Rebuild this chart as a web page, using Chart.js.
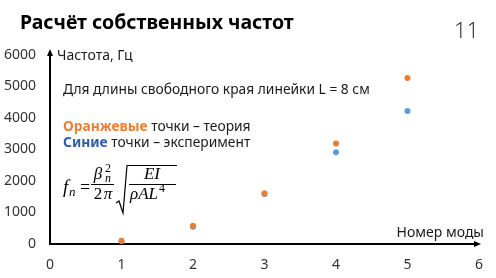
<!DOCTYPE html>
<html>
<head>
<meta charset="utf-8">
<script src="https://cdn.jsdelivr.net/npm/chart.js@4"></script>
<style>
  html, body { margin: 0; padding: 0; background: #fff; }
  #wrap { width: 496px; height: 278px; position: relative; }
</style>
</head>
<body>
<div id="wrap"><canvas id="modeChart" width="496" height="278"></canvas></div>
<script>
// Номера мод и частоты (Гц)
const modes = [1, 2, 3, 4, 5];
const theoryHz = [100, 580, 1610, 3190, 5270];     // оранжевые - теория
const experimentHz = [90, 550, 1590, 2910, 4220];  // синие - эксперимент
const xTicks = [0, 1, 2, 3, 4, 5, 6];
const yTicks = [0, 1000, 2000, 3000, 4000, 5000, 6000];

const txtFont = '"Noto Sans", "Open Sans", sans-serif';
const mathFont = '"Liberation Serif", "DejaVu Serif", serif';

// текст, стрелки осей и формула
const slidePlugin = {
    id: 'slide',
    afterDraw(chart) {
        const ctx = chart.ctx;
        const a = chart.chartArea;
        ctx.save();

        // стрелки
        ctx.fillStyle = '#000';
        ctx.beginPath();
        ctx.moveTo(a.left, a.top - 6);
        ctx.lineTo(a.left - 3, a.top + 1);
        ctx.lineTo(a.left + 3, a.top + 1);
        ctx.fill();
        ctx.fillRect(a.left - 1, a.top, 2, 2);
        ctx.beginPath();
        ctx.moveTo(a.right + 2, a.bottom);
        ctx.lineTo(a.right - 5, a.bottom - 3);
        ctx.lineTo(a.right - 5, a.bottom + 3);
        ctx.fill();

        // заголовок и номер слайда
        ctx.textBaseline = 'alphabetic';
        ctx.textAlign = 'left';
        ctx.fillStyle = '#000';
        ctx.font = 'bold 19.5px ' + txtFont;
        ctx.fillText('Расчёт собственных частот', 20, 29);
        ctx.font = '300 22px "Open Sans", sans-serif';
        ctx.fillStyle = '#222';
        ctx.fillText('11', 454, 38);

        // подписи осей
        ctx.textBaseline = 'middle';
        ctx.font = '14px ' + txtFont;
        ctx.fillStyle = '#1a1a1a';
        ctx.fillText('Частота, Гц', 57, 56);
        ctx.textAlign = 'right';
        ctx.fillText('Номер моды', 484, 233);

        // пояснения
        ctx.textAlign = 'left';
        ctx.font = '13.8px ' + txtFont;
        ctx.fillText('Для длины свободного края линейки L = 8 см', 63, 90);

        ctx.font = 'bold 13.8px ' + txtFont;
        ctx.fillStyle = '#ED7D31';
        ctx.fillText('Оранжевые', 63, 127);
        let w = ctx.measureText('Оранжевые ').width;
        ctx.font = '13.8px ' + txtFont;
        ctx.fillStyle = '#1a1a1a';
        ctx.fillText('точки – теория', 63 + w, 127);

        ctx.font = 'bold 13.8px ' + txtFont;
        ctx.fillStyle = '#2F5CA6';
        ctx.fillText('Синие', 63, 143);
        w = ctx.measureText('Синие ').width;
        ctx.font = '13.8px ' + txtFont;
        ctx.fillStyle = '#1a1a1a';
        ctx.fillText('точки – эксперимент', 63 + w, 143);

        // формула f_n = beta_n^2 / 2pi * sqrt(EI / rho A L^4)
        ctx.fillStyle = '#000';
        ctx.strokeStyle = '#000';
        ctx.textBaseline = 'alphabetic';
        ctx.textAlign = 'left';
        ctx.font = 'italic 19px ' + mathFont;
        ctx.fillText('f', 63, 193);
        ctx.font = 'italic 13px ' + mathFont;
        ctx.fillText('n', 69, 196);
        ctx.font = '18px ' + mathFont;
        ctx.fillText('=', 80, 193);

        ctx.textAlign = 'center';
        ctx.font = 'italic 17px ' + mathFont;
        ctx.fillText('β', 98, 179);
        ctx.font = 'italic 12px ' + mathFont;
        ctx.fillText('n', 108, 182);
        ctx.font = '12px ' + mathFont;
        ctx.fillText('2', 108, 172);
        ctx.font = '17px ' + mathFont;
        ctx.fillText('2', 98, 199);
        ctx.font = 'italic 17px ' + mathFont;
        ctx.fillText('π', 108, 199);
        ctx.lineWidth = 1;
        ctx.beginPath();
        ctx.moveTo(91, 184.5);
        ctx.lineTo(114, 184.5);
        ctx.stroke();

        // корень
        ctx.lineWidth = 1.2;
        ctx.beginPath();
        ctx.moveTo(116, 203);
        ctx.lineTo(119, 201);
        ctx.lineTo(123, 213);
        ctx.lineTo(127, 165.5);
        ctx.lineTo(177, 165.5);
        ctx.stroke();

        ctx.font = 'italic 17px ' + mathFont;
        ctx.fillText('EI', 152, 179);
        ctx.lineWidth = 1;
        ctx.beginPath();
        ctx.moveTo(129, 184.5);
        ctx.lineTo(176, 184.5);
        ctx.stroke();
        ctx.textAlign = 'left';
        ctx.fillText('ρAL', 130, 199);
        w = ctx.measureText('ρAL').width;
        ctx.font = '12px ' + mathFont;
        ctx.fillText('4', 131 + w, 192);

        ctx.restore();
    }
};

const ctx = document.getElementById('modeChart').getContext('2d');
new Chart(ctx, {
    type: 'scatter',
    data: {
        datasets: [{
            label: 'Теория',
            data: modes.map((m, i) => ({x: m, y: theoryHz[i]})),
            backgroundColor: '#ED7D31',
            borderColor: '#ED7D31',
            pointRadius: 3,
            borderWidth: 0
        }, {
            label: 'Эксперимент',
            data: modes.map((m, i) => ({x: m, y: experimentHz[i]})),
            backgroundColor: '#5B9BD5',
            borderColor: '#5B9BD5',
            pointRadius: 3,
            borderWidth: 0
        }]
    },
    plugins: [slidePlugin],
    options: {
        responsive: false,
        animation: false,
        layout: {padding: {top: 55, right: 8, left: 0, bottom: 0}},
        plugins: {
            legend: {display: false},
            tooltip: {enabled: false}
        },
        scales: {
            x: {
                type: 'linear',
                min: 0,
                max: 6,
                afterBuildTicks: s => { s.ticks = xTicks.map(v => ({value: v})); },
                grid: {display: false, drawTicks: false},
                border: {display: true, color: '#000', width: 2},
                ticks: {padding: 13, color: '#333', font: {size: 14, family: txtFont}},
                afterFit: s => { s.height = 34; }
            },
            y: {
                min: 0,
                max: 6000,
                afterBuildTicks: s => { s.ticks = yTicks.map(v => ({value: v})); },
                grid: {display: false, drawTicks: false},
                border: {display: true, color: '#000', width: 2},
                ticks: {
                    padding: 14, color: '#333', font: {size: 14, family: txtFont},
                    callback: v => String(v)
                },
                afterFit: s => { s.width = 50; }
            }
        }
    }
});
</script>
</body>
</html>
